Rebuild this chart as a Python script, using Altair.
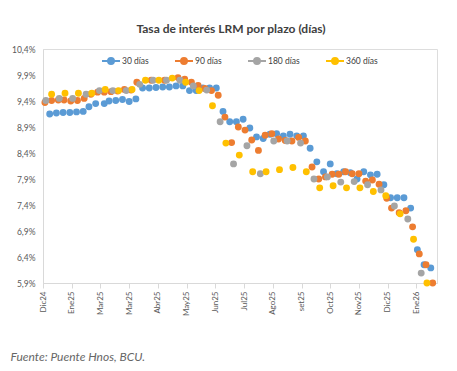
import altair as alt
import pandas as pd

series_names = ["30 días", "90 días", "180 días", "360 días"]
colors = ["#5B9BD5", "#ED7D31", "#A5A5A5", "#FFC000"]

dias_30 = [7, 14, 21, 28, 35, 42, 48, 55, 64, 69, 76, 83, 90, 97, 104, 111, 118, 125, 132, 139,
           146, 153, 160, 167, 174, 181, 188, 195, 202, 209, 216, 223, 230, 237, 244, 251, 258,
           265, 272, 279, 286, 293, 300, 307, 314, 321, 328, 335, 342, 349, 356, 363, 370, 377,
           384, 391, 398, 405]
tasa_30 = [9.15, 9.17, 9.18, 9.18, 9.19, 9.20, 9.29, 9.35, 9.35, 9.40, 9.41, 9.43, 9.39, 9.44,
           9.65, 9.65, 9.66, 9.67, 9.67, 9.69, 9.69, 9.60, 9.60, 9.65, 9.65, 9.65,
           9.20, 9.00, 9.00, 9.05, 8.88, 8.71, 8.68, 8.76, 8.77, 8.73, 8.76, 8.73, 8.73, 8.49,
           8.23, 8.04, 8.19, 8.00, 8.04, 8.02, 7.90, 8.04, 7.98, 7.99, 7.79, 7.54, 7.54, 7.54,
           7.34, 6.54, 6.25, 6.19]

dias_90 = [2, 9, 16, 22, 29, 36, 43, 50, 57, 64, 71, 78, 85, 92, 98, 113, 127, 141, 148, 155,
           162, 169, 176, 183, 190, 197, 204, 211, 218, 225, 232, 239, 246, 253, 260, 267, 274,
           281, 288, 295, 302, 309, 316, 323, 330, 337, 344, 351, 359, 364, 372, 379, 386, 393,
           400, 407]
tasa_90 = [9.37, 9.41, 9.42, 9.42, 9.40, 9.41, 9.45, 9.53, 9.57, 9.57, 9.58, 9.59, 9.62, 9.61,
           9.76, 9.80, 9.80, 9.85, 9.82, 9.76, 9.70, 9.64, 9.60, 9.51,
           9.09, 8.60, 8.90, 8.84, 8.65, 8.45, 8.74, 8.77, 8.67, 8.64, 8.63, 8.70, 8.63, 8.13,
           7.90, 7.94, 7.99, 7.99, 8.04, 8.00, 8.00, 7.86, 7.88, 7.80,
           7.53, 7.34, 7.25, 7.29, 6.98, 6.46, 6.25, 5.90]

dias_180 = [3, 17, 31, 45, 59, 73, 87, 101, 115, 129, 143, 157, 171, 185, 199, 213, 227, 241,
            255, 269, 283, 297, 311, 325, 339, 353, 367, 381, 395]
tasa_180 = [9.41, 9.45, 9.45, 9.53, 9.60, 9.60, 9.60, 9.72, 9.80, 9.80, 9.80, 9.69, 9.61, 9.00,
            8.19, 8.54, 8.00, 8.63, 8.63, 8.59, 7.90, 7.94, 7.84, 7.85, 7.79, 7.69, 7.38, 7.13,
            6.09]

dias_360 = [9, 23, 37, 51, 65, 79, 93, 107, 121, 135, 149, 163, 177, 191, 205, 219, 233, 247,
            261, 275, 289, 303, 317, 331, 345, 358, 373, 387, 401]
tasa_360 = [9.53, 9.55, 9.55, 9.55, 9.62, 9.60, 9.62, 9.80, 9.80, 9.84, 9.76, 9.60, 9.31, 8.59,
            8.36, 8.04, 8.04, 8.08, 8.12, 8.04, 7.73, 7.77, 7.73, 7.73, 7.66, 7.58, 7.23, 6.74,
            5.90]

tick_days = [0, 30, 60, 90, 120, 150, 180, 210, 240, 270, 300, 330, 360, 390]
tick_labels = ["Dic24", "Ene25", "Mar25", "Mar25", "Abr25", "May25", "Jun25", "Jul25",
               "Ago25", "set25", "Oct25", "Nov25", "Dic25", "Ene26"]
y_ticks = [5.9, 6.4, 6.9, 7.4, 7.9, 8.4, 8.9, 9.4, 9.9, 10.4]

rows = []
for i, (name, ds, ts) in enumerate(zip(series_names,
                                      [dias_30, dias_90, dias_180, dias_360],
                                      [tasa_30, tasa_90, tasa_180, tasa_360])):
    for d, t in zip(ds, ts):
        rows.append({"plazo": name, "dia": d, "tasa": t, "orden": i})
df = pd.DataFrame(rows)

label_arr = "[" + ",".join("'" + s + "'" for s in tick_labels) + "]"
FONT = "Lato"

legend = alt.Legend(
    title=None, orient="none", legendX=58, legendY=2, direction="horizontal", columns=4,
    symbolType="M-1,0H1M0.33,0A0.33,0.33,0,1,1,-0.33,0A0.33,0.33,0,1,1,0.33,0Z",
    symbolSize=324, symbolStrokeWidth=2, labelOffset=1, columnPadding=22,
    labelFont=FONT, labelFontSize=8.5, labelColor="#404040", padding=0,
)
color_scale = alt.Scale(domain=series_names, range=colors)

chart = alt.Chart(df).mark_circle(size=24, opacity=1).encode(
    x=alt.X("dia:Q",
            scale=alt.Scale(domain=[0, 411.5], nice=False, zero=False),
            axis=alt.Axis(values=tick_days, labelExpr=label_arr + "[round(datum.value/30)]",
                          labelAngle=-90, labelFont=FONT, labelFontSize=8, labelColor="#595959",
                          labelPadding=3, tickSize=5, tickColor="#D9D9D9", domainColor="#D9D9D9",
                          grid=False, title="Fuente: Puente Hnos, BCU.", titleX=-33, titleY=73,
                          titleAlign="left", titleAnchor="start", titleBaseline="middle",
                          titleFont=FONT, titleFontStyle="italic", titleFontWeight="normal",
                          titleFontSize=12, titleColor="#666666", titleAngle=0)),
    y=alt.Y("tasa:Q",
            scale=alt.Scale(domain=[5.9, 10.4], nice=False, zero=False),
            axis=alt.Axis(values=y_ticks,
                          labelExpr="replace(format(datum.value, '.1f'), '.', ',') + '%'",
                          ticks=False, grid=False, labelPadding=8, labelFont=FONT,
                          labelFontSize=8.5, labelColor="#595959", domainColor="#D9D9D9",
                          title=None)),
    fill=alt.Fill("plazo:N", scale=color_scale, legend=legend),
    stroke=alt.Stroke("plazo:N", scale=color_scale, legend=legend),
    order=alt.Order("orden:Q"),
).properties(
    width=394, height=234,
    title=alt.TitleParams("Tasa de interés LRM por plazo (días)", font=FONT, fontSize=12,
                          fontWeight="bold", color="#404040", frame="group", anchor="middle",
                          dx=-9, offset=9),
    autosize=alt.AutoSizeParams(type="none"),
    padding={"left": 35, "top": 41, "right": 5, "bottom": 80},
).configure_view(stroke=None).configure(background="white")

chart.save("out.html", embed_options={"renderer": "svg", "actions": False})
